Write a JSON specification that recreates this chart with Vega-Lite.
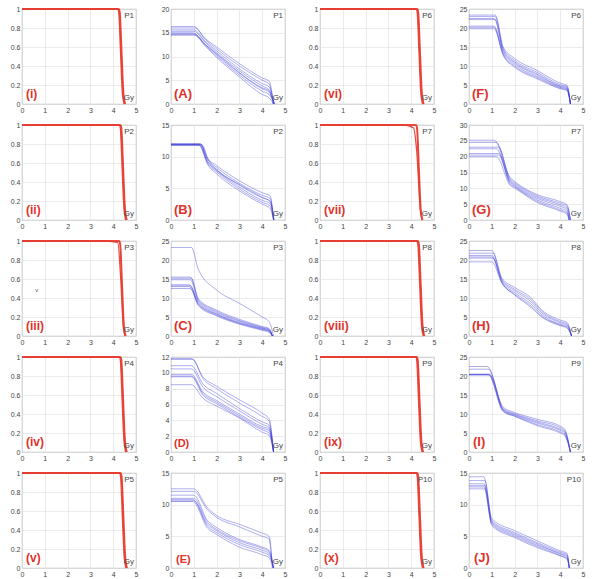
{
"$schema":"https://vega.github.io/schema/vega-lite/v6.json",
"background":"white",
"padding":{"left":9,"top":4,"right":5,"bottom":5},
"data":{"values":[
{"p":"i","s":1,"x":0,"y":1},{"p":"i","s":1,"x":4.2,"y":1},{"p":"i","s":1,"x":4.24,"y":0.97},{"p":"i","s":1,"x":4.32,"y":0.55},{"p":"i","s":1,"x":4.4,"y":0.12},{"p":"i","s":1,"x":4.48,"y":0},
{"p":"i","s":2,"x":0,"y":1},{"p":"i","s":2,"x":4.23,"y":1},{"p":"i","s":2,"x":4.27,"y":0.97},{"p":"i","s":2,"x":4.35,"y":0.55},{"p":"i","s":2,"x":4.43,"y":0.12},{"p":"i","s":2,"x":4.51,"y":0},
{"p":"i","s":3,"x":0,"y":1},{"p":"i","s":3,"x":4.26,"y":1},{"p":"i","s":3,"x":4.3,"y":0.97},{"p":"i","s":3,"x":4.38,"y":0.55},{"p":"i","s":3,"x":4.46,"y":0.12},{"p":"i","s":3,"x":4.54,"y":0},
{"p":"ii","s":1,"x":0,"y":1},{"p":"ii","s":1,"x":4.27,"y":1},{"p":"ii","s":1,"x":4.31,"y":0.97},{"p":"ii","s":1,"x":4.39,"y":0.55},{"p":"ii","s":1,"x":4.47,"y":0.12},{"p":"ii","s":1,"x":4.55,"y":0},
{"p":"ii","s":2,"x":0,"y":1},{"p":"ii","s":2,"x":4.3,"y":1},{"p":"ii","s":2,"x":4.34,"y":0.97},{"p":"ii","s":2,"x":4.42,"y":0.55},{"p":"ii","s":2,"x":4.5,"y":0.12},{"p":"ii","s":2,"x":4.58,"y":0},
{"p":"ii","s":3,"x":0,"y":1},{"p":"ii","s":3,"x":4.33,"y":1},{"p":"ii","s":3,"x":4.37,"y":0.97},{"p":"ii","s":3,"x":4.45,"y":0.55},{"p":"ii","s":3,"x":4.53,"y":0.12},{"p":"ii","s":3,"x":4.61,"y":0},
{"p":"iii","s":1,"x":0,"y":1},{"p":"iii","s":1,"x":4.25,"y":1},{"p":"iii","s":1,"x":4.29,"y":0.97},{"p":"iii","s":1,"x":4.37,"y":0.55},{"p":"iii","s":1,"x":4.45,"y":0.12},{"p":"iii","s":1,"x":4.53,"y":0},
{"p":"iii","s":2,"x":0,"y":1},{"p":"iii","s":2,"x":4.28,"y":1},{"p":"iii","s":2,"x":4.32,"y":0.97},{"p":"iii","s":2,"x":4.4,"y":0.55},{"p":"iii","s":2,"x":4.48,"y":0.12},{"p":"iii","s":2,"x":4.56,"y":0},
{"p":"iii","s":3,"x":0,"y":1},{"p":"iii","s":3,"x":3.5,"y":1},{"p":"iii","s":3,"x":4.2,"y":0.985},{"p":"iii","s":3,"x":4.33,"y":0.6},{"p":"iii","s":3,"x":4.44,"y":0.1},{"p":"iii","s":3,"x":4.52,"y":0},
{"p":"iv","s":1,"x":0,"y":1},{"p":"iv","s":1,"x":4.27,"y":1},{"p":"iv","s":1,"x":4.31,"y":0.97},{"p":"iv","s":1,"x":4.39,"y":0.55},{"p":"iv","s":1,"x":4.47,"y":0.12},{"p":"iv","s":1,"x":4.55,"y":0},
{"p":"iv","s":2,"x":0,"y":1},{"p":"iv","s":2,"x":4.3,"y":1},{"p":"iv","s":2,"x":4.34,"y":0.97},{"p":"iv","s":2,"x":4.42,"y":0.55},{"p":"iv","s":2,"x":4.5,"y":0.12},{"p":"iv","s":2,"x":4.58,"y":0},
{"p":"iv","s":3,"x":0,"y":1},{"p":"iv","s":3,"x":4.33,"y":1},{"p":"iv","s":3,"x":4.37,"y":0.97},{"p":"iv","s":3,"x":4.45,"y":0.55},{"p":"iv","s":3,"x":4.53,"y":0.12},{"p":"iv","s":3,"x":4.61,"y":0},
{"p":"v","s":1,"x":0,"y":1},{"p":"v","s":1,"x":4.28,"y":1},{"p":"v","s":1,"x":4.32,"y":0.97},{"p":"v","s":1,"x":4.4,"y":0.55},{"p":"v","s":1,"x":4.48,"y":0.12},{"p":"v","s":1,"x":4.56,"y":0},
{"p":"v","s":2,"x":0,"y":1},{"p":"v","s":2,"x":4.31,"y":1},{"p":"v","s":2,"x":4.35,"y":0.97},{"p":"v","s":2,"x":4.43,"y":0.55},{"p":"v","s":2,"x":4.51,"y":0.12},{"p":"v","s":2,"x":4.59,"y":0},
{"p":"v","s":3,"x":0,"y":1},{"p":"v","s":3,"x":4.34,"y":1},{"p":"v","s":3,"x":4.38,"y":0.97},{"p":"v","s":3,"x":4.46,"y":0.55},{"p":"v","s":3,"x":4.54,"y":0.12},{"p":"v","s":3,"x":4.62,"y":0},
{"p":"vi","s":1,"x":0,"y":1},{"p":"vi","s":1,"x":4.22,"y":1},{"p":"vi","s":1,"x":4.26,"y":0.97},{"p":"vi","s":1,"x":4.34,"y":0.55},{"p":"vi","s":1,"x":4.42,"y":0.12},{"p":"vi","s":1,"x":4.5,"y":0},
{"p":"vi","s":2,"x":0,"y":1},{"p":"vi","s":2,"x":4.25,"y":1},{"p":"vi","s":2,"x":4.29,"y":0.97},{"p":"vi","s":2,"x":4.37,"y":0.55},{"p":"vi","s":2,"x":4.45,"y":0.12},{"p":"vi","s":2,"x":4.53,"y":0},
{"p":"vi","s":3,"x":0,"y":1},{"p":"vi","s":3,"x":4.28,"y":1},{"p":"vi","s":3,"x":4.32,"y":0.97},{"p":"vi","s":3,"x":4.4,"y":0.55},{"p":"vi","s":3,"x":4.48,"y":0.12},{"p":"vi","s":3,"x":4.56,"y":0},
{"p":"vii","s":1,"x":0,"y":1},{"p":"vii","s":1,"x":4.2,"y":1},{"p":"vii","s":1,"x":4.24,"y":0.97},{"p":"vii","s":1,"x":4.32,"y":0.55},{"p":"vii","s":1,"x":4.4,"y":0.12},{"p":"vii","s":1,"x":4.48,"y":0},
{"p":"vii","s":2,"x":0,"y":1},{"p":"vii","s":2,"x":4.23,"y":1},{"p":"vii","s":2,"x":4.27,"y":0.97},{"p":"vii","s":2,"x":4.35,"y":0.55},{"p":"vii","s":2,"x":4.43,"y":0.12},{"p":"vii","s":2,"x":4.51,"y":0},
{"p":"vii","s":3,"x":0,"y":1},{"p":"vii","s":3,"x":3.7,"y":1},{"p":"vii","s":3,"x":4.1,"y":0.97},{"p":"vii","s":3,"x":4.25,"y":0.7},{"p":"vii","s":3,"x":4.4,"y":0.1},{"p":"vii","s":3,"x":4.48,"y":0},
{"p":"viii","s":1,"x":0,"y":1},{"p":"viii","s":1,"x":4.25,"y":1},{"p":"viii","s":1,"x":4.29,"y":0.97},{"p":"viii","s":1,"x":4.37,"y":0.55},{"p":"viii","s":1,"x":4.45,"y":0.12},{"p":"viii","s":1,"x":4.53,"y":0},
{"p":"viii","s":2,"x":0,"y":1},{"p":"viii","s":2,"x":4.28,"y":1},{"p":"viii","s":2,"x":4.32,"y":0.97},{"p":"viii","s":2,"x":4.4,"y":0.55},{"p":"viii","s":2,"x":4.48,"y":0.12},{"p":"viii","s":2,"x":4.56,"y":0},
{"p":"viii","s":3,"x":0,"y":1},{"p":"viii","s":3,"x":4.31,"y":1},{"p":"viii","s":3,"x":4.35,"y":0.97},{"p":"viii","s":3,"x":4.43,"y":0.55},{"p":"viii","s":3,"x":4.51,"y":0.12},{"p":"viii","s":3,"x":4.59,"y":0},
{"p":"ix","s":1,"x":0,"y":1},{"p":"ix","s":1,"x":4.2,"y":1},{"p":"ix","s":1,"x":4.24,"y":0.97},{"p":"ix","s":1,"x":4.32,"y":0.55},{"p":"ix","s":1,"x":4.4,"y":0.12},{"p":"ix","s":1,"x":4.48,"y":0},
{"p":"ix","s":2,"x":0,"y":1},{"p":"ix","s":2,"x":4.23,"y":1},{"p":"ix","s":2,"x":4.27,"y":0.97},{"p":"ix","s":2,"x":4.35,"y":0.55},{"p":"ix","s":2,"x":4.43,"y":0.12},{"p":"ix","s":2,"x":4.51,"y":0},
{"p":"ix","s":3,"x":0,"y":1},{"p":"ix","s":3,"x":4.26,"y":1},{"p":"ix","s":3,"x":4.3,"y":0.97},{"p":"ix","s":3,"x":4.38,"y":0.55},{"p":"ix","s":3,"x":4.46,"y":0.12},{"p":"ix","s":3,"x":4.54,"y":0},
{"p":"x","s":1,"x":0,"y":1},{"p":"x","s":1,"x":4.22,"y":1},{"p":"x","s":1,"x":4.26,"y":0.97},{"p":"x","s":1,"x":4.34,"y":0.55},{"p":"x","s":1,"x":4.42,"y":0.12},{"p":"x","s":1,"x":4.5,"y":0},
{"p":"x","s":2,"x":0,"y":1},{"p":"x","s":2,"x":4.25,"y":1},{"p":"x","s":2,"x":4.29,"y":0.97},{"p":"x","s":2,"x":4.37,"y":0.55},{"p":"x","s":2,"x":4.45,"y":0.12},{"p":"x","s":2,"x":4.53,"y":0},
{"p":"x","s":3,"x":0,"y":1},{"p":"x","s":3,"x":4.28,"y":1},{"p":"x","s":3,"x":4.32,"y":0.97},{"p":"x","s":3,"x":4.4,"y":0.55},{"p":"x","s":3,"x":4.48,"y":0.12},{"p":"x","s":3,"x":4.56,"y":0},

{"p":"A","s":1,"x":0,"y":16.3},{"p":"A","s":1,"x":1.0,"y":16.3},{"p":"A","s":1,"x":1.5,"y":13.8},{"p":"A","s":1,"x":2,"y":12.0},{"p":"A","s":1,"x":3,"y":8.5},{"p":"A","s":1,"x":4,"y":5.5},{"p":"A","s":1,"x":4.3,"y":4.8},{"p":"A","s":1,"x":4.5,"y":0},
{"p":"A","s":2,"x":0,"y":16.0},{"p":"A","s":2,"x":1.05,"y":16.0},{"p":"A","s":2,"x":1.5,"y":13.6},{"p":"A","s":2,"x":2,"y":11.6},{"p":"A","s":2,"x":3,"y":8.0},{"p":"A","s":2,"x":4,"y":5.0},{"p":"A","s":2,"x":4.3,"y":4.2},{"p":"A","s":2,"x":4.5,"y":0},
{"p":"A","s":3,"x":0,"y":15.6},{"p":"A","s":3,"x":1.0,"y":15.6},{"p":"A","s":3,"x":1.5,"y":13.2},{"p":"A","s":3,"x":2,"y":11.2},{"p":"A","s":3,"x":3,"y":7.4},{"p":"A","s":3,"x":4,"y":4.3},{"p":"A","s":3,"x":4.3,"y":3.6},{"p":"A","s":3,"x":4.52,"y":0},
{"p":"A","s":4,"x":0,"y":15.3},{"p":"A","s":4,"x":1.0,"y":15.3},{"p":"A","s":4,"x":1.5,"y":13.0},{"p":"A","s":4,"x":2,"y":10.8},{"p":"A","s":4,"x":3,"y":7.0},{"p":"A","s":4,"x":4,"y":3.8},{"p":"A","s":4,"x":4.3,"y":3.0},{"p":"A","s":4,"x":4.5,"y":0},
{"p":"A","s":5,"x":0,"y":15.0},{"p":"A","s":5,"x":0.95,"y":15.0},{"p":"A","s":5,"x":1.5,"y":12.6},{"p":"A","s":5,"x":2,"y":10.4},{"p":"A","s":5,"x":3,"y":6.5},{"p":"A","s":5,"x":4,"y":3.2},{"p":"A","s":5,"x":4.3,"y":2.5},{"p":"A","s":5,"x":4.55,"y":0},
{"p":"A","s":6,"x":0,"y":14.8},{"p":"A","s":6,"x":1.0,"y":14.8},{"p":"A","s":6,"x":1.5,"y":12.4},{"p":"A","s":6,"x":2,"y":10.1},{"p":"A","s":6,"x":3,"y":6.1},{"p":"A","s":6,"x":4,"y":2.7},{"p":"A","s":6,"x":4.3,"y":2.0},{"p":"A","s":6,"x":4.55,"y":0},
{"p":"A","s":7,"x":0,"y":14.6},{"p":"A","s":7,"x":1.0,"y":14.6},{"p":"A","s":7,"x":1.5,"y":12.2},{"p":"A","s":7,"x":2,"y":9.8},{"p":"A","s":7,"x":3,"y":5.7},{"p":"A","s":7,"x":4,"y":2.0},{"p":"A","s":7,"x":4.3,"y":1.3},{"p":"A","s":7,"x":4.5,"y":0},
{"p":"A","s":8,"x":0,"y":14.5},{"p":"A","s":8,"x":1.05,"y":14.5},{"p":"A","s":8,"x":1.5,"y":12.5},{"p":"A","s":8,"x":2,"y":10.6},{"p":"A","s":8,"x":3,"y":6.6},{"p":"A","s":8,"x":4,"y":3.4},{"p":"A","s":8,"x":4.3,"y":2.8},{"p":"A","s":8,"x":4.48,"y":0},

{"p":"B","s":1,"x":0,"y":12.0},{"p":"B","s":1,"x":1.3,"y":12.0},{"p":"B","s":1,"x":1.6,"y":9.8},{"p":"B","s":1,"x":2,"y":8.6},{"p":"B","s":1,"x":3,"y":6.2},{"p":"B","s":1,"x":4,"y":4.3},{"p":"B","s":1,"x":4.35,"y":3.8},{"p":"B","s":1,"x":4.5,"y":0},
{"p":"B","s":2,"x":0,"y":12.0},{"p":"B","s":2,"x":1.25,"y":12.0},{"p":"B","s":2,"x":1.6,"y":9.6},{"p":"B","s":2,"x":2,"y":8.3},{"p":"B","s":2,"x":3,"y":5.8},{"p":"B","s":2,"x":4,"y":3.9},{"p":"B","s":2,"x":4.35,"y":3.4},{"p":"B","s":2,"x":4.5,"y":0},
{"p":"B","s":3,"x":0,"y":11.9},{"p":"B","s":3,"x":1.35,"y":11.9},{"p":"B","s":3,"x":1.65,"y":9.4},{"p":"B","s":3,"x":2,"y":8.0},{"p":"B","s":3,"x":3,"y":5.5},{"p":"B","s":3,"x":4,"y":3.5},{"p":"B","s":3,"x":4.35,"y":3.0},{"p":"B","s":3,"x":4.52,"y":0},
{"p":"B","s":4,"x":0,"y":11.9},{"p":"B","s":4,"x":1.2,"y":11.9},{"p":"B","s":4,"x":1.6,"y":9.2},{"p":"B","s":4,"x":2,"y":7.8},{"p":"B","s":4,"x":3,"y":5.2},{"p":"B","s":4,"x":4,"y":3.1},{"p":"B","s":4,"x":4.35,"y":2.6},{"p":"B","s":4,"x":4.5,"y":0},
{"p":"B","s":5,"x":0,"y":11.8},{"p":"B","s":5,"x":1.3,"y":11.8},{"p":"B","s":5,"x":1.6,"y":9.0},{"p":"B","s":5,"x":2,"y":7.6},{"p":"B","s":5,"x":3,"y":4.9},{"p":"B","s":5,"x":4,"y":2.8},{"p":"B","s":5,"x":4.35,"y":2.2},{"p":"B","s":5,"x":4.5,"y":0},
{"p":"B","s":6,"x":0,"y":11.8},{"p":"B","s":6,"x":1.25,"y":11.8},{"p":"B","s":6,"x":1.6,"y":8.8},{"p":"B","s":6,"x":2,"y":7.3},{"p":"B","s":6,"x":3,"y":4.6},{"p":"B","s":6,"x":4,"y":2.5},{"p":"B","s":6,"x":4.35,"y":1.8},{"p":"B","s":6,"x":4.5,"y":0},
{"p":"B","s":7,"x":0,"y":12.0},{"p":"B","s":7,"x":1.3,"y":12.0},{"p":"B","s":7,"x":1.6,"y":9.3},{"p":"B","s":7,"x":2,"y":7.9},{"p":"B","s":7,"x":3,"y":5.6},{"p":"B","s":7,"x":4,"y":3.6},{"p":"B","s":7,"x":4.35,"y":2.9},{"p":"B","s":7,"x":4.52,"y":0},

{"p":"C","s":1,"x":0,"y":23.3},{"p":"C","s":1,"x":0.9,"y":23.3},{"p":"C","s":1,"x":1.2,"y":17.5},{"p":"C","s":1,"x":2,"y":12.1},{"p":"C","s":1,"x":3,"y":8.6},{"p":"C","s":1,"x":4,"y":5.0},{"p":"C","s":1,"x":4.3,"y":3.8},{"p":"C","s":1,"x":4.5,"y":0},
{"p":"C","s":2,"x":0,"y":15.5},{"p":"C","s":2,"x":0.85,"y":15.5},{"p":"C","s":2,"x":1.2,"y":9.8},{"p":"C","s":2,"x":2,"y":6.8},{"p":"C","s":2,"x":3,"y":4.4},{"p":"C","s":2,"x":4,"y":2.5},{"p":"C","s":2,"x":4.3,"y":2.0},{"p":"C","s":2,"x":4.45,"y":0},
{"p":"C","s":3,"x":0,"y":15.2},{"p":"C","s":3,"x":0.9,"y":15.2},{"p":"C","s":3,"x":1.2,"y":9.5},{"p":"C","s":3,"x":2,"y":6.5},{"p":"C","s":3,"x":3,"y":4.1},{"p":"C","s":3,"x":4,"y":2.3},{"p":"C","s":3,"x":4.3,"y":1.8},{"p":"C","s":3,"x":4.45,"y":0},
{"p":"C","s":4,"x":0,"y":14.8},{"p":"C","s":4,"x":0.85,"y":14.8},{"p":"C","s":4,"x":1.2,"y":9.2},{"p":"C","s":4,"x":2,"y":6.2},{"p":"C","s":4,"x":3,"y":3.9},{"p":"C","s":4,"x":4,"y":2.1},{"p":"C","s":4,"x":4.3,"y":1.6},{"p":"C","s":4,"x":4.45,"y":0},
{"p":"C","s":5,"x":0,"y":13.5},{"p":"C","s":5,"x":0.8,"y":13.5},{"p":"C","s":5,"x":1.2,"y":8.8},{"p":"C","s":5,"x":2,"y":5.9},{"p":"C","s":5,"x":3,"y":3.6},{"p":"C","s":5,"x":4,"y":2.0},{"p":"C","s":5,"x":4.3,"y":1.5},{"p":"C","s":5,"x":4.45,"y":0},
{"p":"C","s":6,"x":0,"y":13.2},{"p":"C","s":6,"x":0.85,"y":13.2},{"p":"C","s":6,"x":1.2,"y":8.5},{"p":"C","s":6,"x":2,"y":5.7},{"p":"C","s":6,"x":3,"y":3.4},{"p":"C","s":6,"x":4,"y":1.8},{"p":"C","s":6,"x":4.3,"y":1.3},{"p":"C","s":6,"x":4.45,"y":0},
{"p":"C","s":7,"x":0,"y":13.0},{"p":"C","s":7,"x":0.8,"y":13.0},{"p":"C","s":7,"x":1.2,"y":8.3},{"p":"C","s":7,"x":2,"y":5.5},{"p":"C","s":7,"x":3,"y":3.3},{"p":"C","s":7,"x":4,"y":1.7},{"p":"C","s":7,"x":4.3,"y":1.2},{"p":"C","s":7,"x":4.45,"y":0},
{"p":"C","s":8,"x":0,"y":12.5},{"p":"C","s":8,"x":0.85,"y":12.5},{"p":"C","s":8,"x":1.2,"y":8.0},{"p":"C","s":8,"x":2,"y":5.3},{"p":"C","s":8,"x":3,"y":3.1},{"p":"C","s":8,"x":4,"y":1.5},{"p":"C","s":8,"x":4.3,"y":1.0},{"p":"C","s":8,"x":4.45,"y":0},

{"p":"D","s":1,"x":0,"y":11.8},{"p":"D","s":1,"x":0.9,"y":11.8},{"p":"D","s":1,"x":1.4,"y":9.5},{"p":"D","s":1,"x":2,"y":8.3},{"p":"D","s":1,"x":3,"y":6.6},{"p":"D","s":1,"x":4,"y":4.9},{"p":"D","s":1,"x":4.3,"y":4.2},{"p":"D","s":1,"x":4.5,"y":0},
{"p":"D","s":2,"x":0,"y":11.7},{"p":"D","s":2,"x":0.95,"y":11.7},{"p":"D","s":2,"x":1.4,"y":9.3},{"p":"D","s":2,"x":2,"y":8.0},{"p":"D","s":2,"x":3,"y":6.2},{"p":"D","s":2,"x":4,"y":4.5},{"p":"D","s":2,"x":4.3,"y":3.9},{"p":"D","s":2,"x":4.5,"y":0},
{"p":"D","s":3,"x":0,"y":10.9},{"p":"D","s":3,"x":0.9,"y":10.9},{"p":"D","s":3,"x":1.4,"y":8.6},{"p":"D","s":3,"x":2,"y":7.4},{"p":"D","s":3,"x":3,"y":5.5},{"p":"D","s":3,"x":4,"y":3.8},{"p":"D","s":3,"x":4.3,"y":3.4},{"p":"D","s":3,"x":4.5,"y":0},
{"p":"D","s":4,"x":0,"y":10.5},{"p":"D","s":4,"x":0.9,"y":10.5},{"p":"D","s":4,"x":1.4,"y":8.2},{"p":"D","s":4,"x":2,"y":7.0},{"p":"D","s":4,"x":3,"y":5.2},{"p":"D","s":4,"x":4,"y":3.5},{"p":"D","s":4,"x":4.3,"y":3.1},{"p":"D","s":4,"x":4.5,"y":0},
{"p":"D","s":5,"x":0,"y":9.8},{"p":"D","s":5,"x":0.9,"y":9.8},{"p":"D","s":5,"x":1.4,"y":7.6},{"p":"D","s":5,"x":2,"y":6.5},{"p":"D","s":5,"x":3,"y":4.8},{"p":"D","s":5,"x":4,"y":3.2},{"p":"D","s":5,"x":4.3,"y":2.9},{"p":"D","s":5,"x":4.5,"y":0},
{"p":"D","s":6,"x":0,"y":9.6},{"p":"D","s":6,"x":0.9,"y":9.6},{"p":"D","s":6,"x":1.4,"y":7.4},{"p":"D","s":6,"x":2,"y":6.3},{"p":"D","s":6,"x":3,"y":4.6},{"p":"D","s":6,"x":4,"y":3.0},{"p":"D","s":6,"x":4.3,"y":2.7},{"p":"D","s":6,"x":4.5,"y":0},
{"p":"D","s":7,"x":0,"y":9.5},{"p":"D","s":7,"x":0.9,"y":9.5},{"p":"D","s":7,"x":1.4,"y":7.2},{"p":"D","s":7,"x":2,"y":6.1},{"p":"D","s":7,"x":3,"y":4.4},{"p":"D","s":7,"x":4,"y":2.8},{"p":"D","s":7,"x":4.3,"y":2.4},{"p":"D","s":7,"x":4.5,"y":0},
{"p":"D","s":8,"x":0,"y":8.5},{"p":"D","s":8,"x":0.9,"y":8.5},{"p":"D","s":8,"x":1.4,"y":6.8},{"p":"D","s":8,"x":2,"y":5.8},{"p":"D","s":8,"x":3,"y":4.3},{"p":"D","s":8,"x":4,"y":2.5},{"p":"D","s":8,"x":4.3,"y":2.1},{"p":"D","s":8,"x":4.5,"y":0},

{"p":"E","s":1,"x":0,"y":12.5},{"p":"E","s":1,"x":1.0,"y":12.5},{"p":"E","s":1,"x":1.6,"y":9.5},{"p":"E","s":1,"x":2,"y":8.3},{"p":"E","s":1,"x":3,"y":6.9},{"p":"E","s":1,"x":4,"y":5.5},{"p":"E","s":1,"x":4.3,"y":5.0},{"p":"E","s":1,"x":4.45,"y":0},
{"p":"E","s":2,"x":0,"y":12.1},{"p":"E","s":2,"x":1.0,"y":12.1},{"p":"E","s":2,"x":1.6,"y":9.2},{"p":"E","s":2,"x":2,"y":8.0},{"p":"E","s":2,"x":3,"y":6.5},{"p":"E","s":2,"x":4,"y":5.0},{"p":"E","s":2,"x":4.3,"y":4.6},{"p":"E","s":2,"x":4.45,"y":0},
{"p":"E","s":3,"x":0,"y":11.5},{"p":"E","s":3,"x":1.0,"y":11.5},{"p":"E","s":3,"x":1.6,"y":7.5},{"p":"E","s":3,"x":2,"y":6.4},{"p":"E","s":3,"x":3,"y":4.5},{"p":"E","s":3,"x":4,"y":3.3},{"p":"E","s":3,"x":4.3,"y":2.8},{"p":"E","s":3,"x":4.5,"y":0},
{"p":"E","s":4,"x":0,"y":11.0},{"p":"E","s":4,"x":1.0,"y":11.0},{"p":"E","s":4,"x":1.6,"y":7.2},{"p":"E","s":4,"x":2,"y":6.1},{"p":"E","s":4,"x":3,"y":4.3},{"p":"E","s":4,"x":4,"y":3.1},{"p":"E","s":4,"x":4.3,"y":2.6},{"p":"E","s":4,"x":4.5,"y":0},
{"p":"E","s":5,"x":0,"y":10.8},{"p":"E","s":5,"x":0.95,"y":10.8},{"p":"E","s":5,"x":1.6,"y":6.9},{"p":"E","s":5,"x":2,"y":5.9},{"p":"E","s":5,"x":3,"y":4.0},{"p":"E","s":5,"x":4,"y":2.8},{"p":"E","s":5,"x":4.3,"y":2.3},{"p":"E","s":5,"x":4.5,"y":0},
{"p":"E","s":6,"x":0,"y":10.6},{"p":"E","s":6,"x":1.0,"y":10.6},{"p":"E","s":6,"x":1.6,"y":6.6},{"p":"E","s":6,"x":2,"y":5.6},{"p":"E","s":6,"x":3,"y":3.7},{"p":"E","s":6,"x":4,"y":2.5},{"p":"E","s":6,"x":4.3,"y":2.0},{"p":"E","s":6,"x":4.5,"y":0},
{"p":"E","s":7,"x":0,"y":10.5},{"p":"E","s":7,"x":0.95,"y":10.5},{"p":"E","s":7,"x":1.6,"y":6.3},{"p":"E","s":7,"x":2,"y":5.3},{"p":"E","s":7,"x":3,"y":3.3},{"p":"E","s":7,"x":4,"y":2.1},{"p":"E","s":7,"x":4.3,"y":1.6},{"p":"E","s":7,"x":4.5,"y":0},

{"p":"F","s":1,"x":0,"y":23.4},{"p":"F","s":1,"x":1.15,"y":23.4},{"p":"F","s":1,"x":1.5,"y":15.0},{"p":"F","s":1,"x":2,"y":12.0},{"p":"F","s":1,"x":3,"y":8.8},{"p":"F","s":1,"x":4,"y":5.5},{"p":"F","s":1,"x":4.3,"y":4.9},{"p":"F","s":1,"x":4.45,"y":0},
{"p":"F","s":2,"x":0,"y":23.0},{"p":"F","s":2,"x":1.15,"y":23.0},{"p":"F","s":2,"x":1.5,"y":14.6},{"p":"F","s":2,"x":2,"y":11.5},{"p":"F","s":2,"x":3,"y":8.3},{"p":"F","s":2,"x":4,"y":5.1},{"p":"F","s":2,"x":4.3,"y":4.6},{"p":"F","s":2,"x":4.45,"y":0},
{"p":"F","s":3,"x":0,"y":22.5},{"p":"F","s":3,"x":1.1,"y":22.5},{"p":"F","s":3,"x":1.5,"y":14.2},{"p":"F","s":3,"x":2,"y":11.1},{"p":"F","s":3,"x":3,"y":7.9},{"p":"F","s":3,"x":4,"y":4.8},{"p":"F","s":3,"x":4.3,"y":4.4},{"p":"F","s":3,"x":4.45,"y":0},
{"p":"F","s":4,"x":0,"y":22.2},{"p":"F","s":4,"x":1.15,"y":22.2},{"p":"F","s":4,"x":1.5,"y":13.8},{"p":"F","s":4,"x":2,"y":10.8},{"p":"F","s":4,"x":3,"y":7.6},{"p":"F","s":4,"x":4,"y":4.6},{"p":"F","s":4,"x":4.3,"y":4.1},{"p":"F","s":4,"x":4.45,"y":0},
{"p":"F","s":5,"x":0,"y":20.5},{"p":"F","s":5,"x":1.1,"y":20.5},{"p":"F","s":5,"x":1.5,"y":13.4},{"p":"F","s":5,"x":2,"y":10.4},{"p":"F","s":5,"x":3,"y":7.2},{"p":"F","s":5,"x":4,"y":4.4},{"p":"F","s":5,"x":4.3,"y":3.9},{"p":"F","s":5,"x":4.45,"y":0},
{"p":"F","s":6,"x":0,"y":20.2},{"p":"F","s":6,"x":1.1,"y":20.2},{"p":"F","s":6,"x":1.5,"y":13.0},{"p":"F","s":6,"x":2,"y":10.0},{"p":"F","s":6,"x":3,"y":6.9},{"p":"F","s":6,"x":4,"y":4.2},{"p":"F","s":6,"x":4.3,"y":3.7},{"p":"F","s":6,"x":4.45,"y":0},
{"p":"F","s":7,"x":0,"y":19.8},{"p":"F","s":7,"x":1.1,"y":19.8},{"p":"F","s":7,"x":1.5,"y":12.8},{"p":"F","s":7,"x":2,"y":9.7},{"p":"F","s":7,"x":3,"y":6.6},{"p":"F","s":7,"x":4,"y":4.0},{"p":"F","s":7,"x":4.3,"y":3.5},{"p":"F","s":7,"x":4.45,"y":0},

{"p":"G","s":1,"x":0,"y":25.2},{"p":"G","s":1,"x":1.1,"y":25.2},{"p":"G","s":1,"x":1.8,"y":13.5},{"p":"G","s":1,"x":2,"y":12.2},{"p":"G","s":1,"x":3,"y":8.0},{"p":"G","s":1,"x":4,"y":5.8},{"p":"G","s":1,"x":4.3,"y":4.8},{"p":"G","s":1,"x":4.45,"y":0},
{"p":"G","s":2,"x":0,"y":24.5},{"p":"G","s":2,"x":1.2,"y":24.5},{"p":"G","s":2,"x":1.8,"y":13.0},{"p":"G","s":2,"x":2,"y":11.8},{"p":"G","s":2,"x":3,"y":7.6},{"p":"G","s":2,"x":4,"y":5.3},{"p":"G","s":2,"x":4.3,"y":4.4},{"p":"G","s":2,"x":4.45,"y":0},
{"p":"G","s":3,"x":0,"y":23.0},{"p":"G","s":3,"x":1.3,"y":23.0},{"p":"G","s":3,"x":1.8,"y":12.6},{"p":"G","s":3,"x":2,"y":11.4},{"p":"G","s":3,"x":3,"y":7.2},{"p":"G","s":3,"x":4,"y":4.8},{"p":"G","s":3,"x":4.3,"y":3.8},{"p":"G","s":3,"x":4.45,"y":0},
{"p":"G","s":4,"x":0,"y":22.5},{"p":"G","s":4,"x":1.2,"y":22.5},{"p":"G","s":4,"x":1.8,"y":12.2},{"p":"G","s":4,"x":2,"y":11.0},{"p":"G","s":4,"x":3,"y":6.8},{"p":"G","s":4,"x":4,"y":4.3},{"p":"G","s":4,"x":4.3,"y":3.3},{"p":"G","s":4,"x":4.4,"y":0},
{"p":"G","s":5,"x":0,"y":21.0},{"p":"G","s":5,"x":1.3,"y":21.0},{"p":"G","s":5,"x":1.8,"y":11.8},{"p":"G","s":5,"x":2,"y":10.7},{"p":"G","s":5,"x":3,"y":6.3},{"p":"G","s":5,"x":4,"y":3.7},{"p":"G","s":5,"x":4.3,"y":2.7},{"p":"G","s":5,"x":4.4,"y":0},
{"p":"G","s":6,"x":0,"y":20.5},{"p":"G","s":6,"x":1.3,"y":20.5},{"p":"G","s":6,"x":1.8,"y":11.4},{"p":"G","s":6,"x":2,"y":10.4},{"p":"G","s":6,"x":3,"y":5.9},{"p":"G","s":6,"x":4,"y":3.2},{"p":"G","s":6,"x":4.3,"y":2.2},{"p":"G","s":6,"x":4.4,"y":0},
{"p":"G","s":7,"x":0,"y":20.0},{"p":"G","s":7,"x":1.2,"y":20.0},{"p":"G","s":7,"x":1.8,"y":11.0},{"p":"G","s":7,"x":2,"y":10.1},{"p":"G","s":7,"x":3,"y":5.5},{"p":"G","s":7,"x":4,"y":2.8},{"p":"G","s":7,"x":4.3,"y":1.8},{"p":"G","s":7,"x":4.38,"y":0},

{"p":"H","s":1,"x":0,"y":22.5},{"p":"H","s":1,"x":1.0,"y":22.5},{"p":"H","s":1,"x":1.45,"y":15.2},{"p":"H","s":1,"x":2,"y":12.8},{"p":"H","s":1,"x":2.8,"y":9.6},{"p":"H","s":1,"x":3.1,"y":7.4},{"p":"H","s":1,"x":4,"y":4.2},{"p":"H","s":1,"x":4.3,"y":3.6},{"p":"H","s":1,"x":4.5,"y":0},
{"p":"H","s":2,"x":0,"y":21.8},{"p":"H","s":2,"x":1.05,"y":21.8},{"p":"H","s":2,"x":1.45,"y":14.8},{"p":"H","s":2,"x":2,"y":12.3},{"p":"H","s":2,"x":2.8,"y":9.1},{"p":"H","s":2,"x":3.1,"y":7.0},{"p":"H","s":2,"x":4,"y":3.8},{"p":"H","s":2,"x":4.3,"y":3.2},{"p":"H","s":2,"x":4.5,"y":0},
{"p":"H","s":3,"x":0,"y":21.2},{"p":"H","s":3,"x":1.0,"y":21.2},{"p":"H","s":3,"x":1.45,"y":14.5},{"p":"H","s":3,"x":2,"y":11.9},{"p":"H","s":3,"x":2.8,"y":8.6},{"p":"H","s":3,"x":3.1,"y":6.6},{"p":"H","s":3,"x":4,"y":3.5},{"p":"H","s":3,"x":4.3,"y":2.9},{"p":"H","s":3,"x":4.5,"y":0},
{"p":"H","s":4,"x":0,"y":20.8},{"p":"H","s":4,"x":1.0,"y":20.8},{"p":"H","s":4,"x":1.45,"y":14.2},{"p":"H","s":4,"x":2,"y":11.4},{"p":"H","s":4,"x":2.8,"y":8.0},{"p":"H","s":4,"x":3.1,"y":6.1},{"p":"H","s":4,"x":4,"y":3.1},{"p":"H","s":4,"x":4.3,"y":2.6},{"p":"H","s":4,"x":4.5,"y":0},
{"p":"H","s":5,"x":0,"y":20.5},{"p":"H","s":5,"x":1.05,"y":20.5},{"p":"H","s":5,"x":1.45,"y":14.0},{"p":"H","s":5,"x":2,"y":11.0},{"p":"H","s":5,"x":2.8,"y":7.5},{"p":"H","s":5,"x":3.1,"y":5.7},{"p":"H","s":5,"x":4,"y":2.9},{"p":"H","s":5,"x":4.3,"y":2.3},{"p":"H","s":5,"x":4.5,"y":0},
{"p":"H","s":6,"x":0,"y":19.5},{"p":"H","s":6,"x":1.0,"y":19.5},{"p":"H","s":6,"x":1.45,"y":13.8},{"p":"H","s":6,"x":2,"y":10.8},{"p":"H","s":6,"x":2.8,"y":7.1},{"p":"H","s":6,"x":3.1,"y":5.4},{"p":"H","s":6,"x":4,"y":2.7},{"p":"H","s":6,"x":4.3,"y":2.1},{"p":"H","s":6,"x":4.5,"y":0},

{"p":"I","s":1,"x":0,"y":22.5},{"p":"I","s":1,"x":0.8,"y":22.5},{"p":"I","s":1,"x":1.5,"y":11.8},{"p":"I","s":1,"x":2,"y":10.4},{"p":"I","s":1,"x":3,"y":8.6},{"p":"I","s":1,"x":4,"y":6.8},{"p":"I","s":1,"x":4.2,"y":6.0},{"p":"I","s":1,"x":4.45,"y":0},
{"p":"I","s":2,"x":0,"y":21.8},{"p":"I","s":2,"x":0.85,"y":21.8},{"p":"I","s":2,"x":1.5,"y":11.4},{"p":"I","s":2,"x":2,"y":10.1},{"p":"I","s":2,"x":3,"y":8.2},{"p":"I","s":2,"x":4,"y":6.4},{"p":"I","s":2,"x":4.2,"y":5.6},{"p":"I","s":2,"x":4.45,"y":0},
{"p":"I","s":3,"x":0,"y":20.5},{"p":"I","s":3,"x":0.9,"y":20.5},{"p":"I","s":3,"x":1.5,"y":11.2},{"p":"I","s":3,"x":2,"y":9.9},{"p":"I","s":3,"x":3,"y":7.9},{"p":"I","s":3,"x":4,"y":6.0},{"p":"I","s":3,"x":4.2,"y":5.3},{"p":"I","s":3,"x":4.45,"y":0},
{"p":"I","s":4,"x":0,"y":20.4},{"p":"I","s":4,"x":0.85,"y":20.4},{"p":"I","s":4,"x":1.5,"y":11.0},{"p":"I","s":4,"x":2,"y":9.7},{"p":"I","s":4,"x":3,"y":7.6},{"p":"I","s":4,"x":4,"y":5.7},{"p":"I","s":4,"x":4.2,"y":5.0},{"p":"I","s":4,"x":4.45,"y":0},
{"p":"I","s":5,"x":0,"y":20.3},{"p":"I","s":5,"x":0.9,"y":20.3},{"p":"I","s":5,"x":1.5,"y":10.8},{"p":"I","s":5,"x":2,"y":9.5},{"p":"I","s":5,"x":3,"y":7.2},{"p":"I","s":5,"x":4,"y":5.3},{"p":"I","s":5,"x":4.2,"y":4.6},{"p":"I","s":5,"x":4.45,"y":0},
{"p":"I","s":6,"x":0,"y":20.3},{"p":"I","s":6,"x":0.85,"y":20.3},{"p":"I","s":6,"x":1.5,"y":10.6},{"p":"I","s":6,"x":2,"y":9.4},{"p":"I","s":6,"x":3,"y":6.9},{"p":"I","s":6,"x":4,"y":5.0},{"p":"I","s":6,"x":4.2,"y":4.3},{"p":"I","s":6,"x":4.45,"y":0},

{"p":"J","s":1,"x":0,"y":14.4},{"p":"J","s":1,"x":0.65,"y":14.4},{"p":"J","s":1,"x":1.0,"y":7.8},{"p":"J","s":1,"x":2,"y":5.9},{"p":"J","s":1,"x":3,"y":4.3},{"p":"J","s":1,"x":4,"y":2.7},{"p":"J","s":1,"x":4.3,"y":2.3},{"p":"J","s":1,"x":4.4,"y":0},
{"p":"J","s":2,"x":0,"y":13.8},{"p":"J","s":2,"x":0.7,"y":13.8},{"p":"J","s":2,"x":1.0,"y":7.5},{"p":"J","s":2,"x":2,"y":5.6},{"p":"J","s":2,"x":3,"y":4.0},{"p":"J","s":2,"x":4,"y":2.5},{"p":"J","s":2,"x":4.3,"y":2.1},{"p":"J","s":2,"x":4.4,"y":0},
{"p":"J","s":3,"x":0,"y":13.3},{"p":"J","s":3,"x":0.65,"y":13.3},{"p":"J","s":3,"x":1.0,"y":7.3},{"p":"J","s":3,"x":2,"y":5.4},{"p":"J","s":3,"x":3,"y":3.8},{"p":"J","s":3,"x":4,"y":2.3},{"p":"J","s":3,"x":4.3,"y":1.9},{"p":"J","s":3,"x":4.4,"y":0},
{"p":"J","s":4,"x":0,"y":13.0},{"p":"J","s":4,"x":0.7,"y":13.0},{"p":"J","s":4,"x":1.0,"y":7.1},{"p":"J","s":4,"x":2,"y":5.2},{"p":"J","s":4,"x":3,"y":3.6},{"p":"J","s":4,"x":4,"y":2.2},{"p":"J","s":4,"x":4.3,"y":1.7},{"p":"J","s":4,"x":4.4,"y":0},
{"p":"J","s":5,"x":0,"y":12.8},{"p":"J","s":5,"x":0.65,"y":12.8},{"p":"J","s":5,"x":1.0,"y":6.9},{"p":"J","s":5,"x":2,"y":5.0},{"p":"J","s":5,"x":3,"y":3.4},{"p":"J","s":5,"x":4,"y":2.0},{"p":"J","s":5,"x":4.3,"y":1.5},{"p":"J","s":5,"x":4.4,"y":0},
{"p":"J","s":6,"x":0,"y":12.5},{"p":"J","s":6,"x":0.7,"y":12.5},{"p":"J","s":6,"x":1.0,"y":6.7},{"p":"J","s":6,"x":2,"y":4.8},{"p":"J","s":6,"x":3,"y":3.2},{"p":"J","s":6,"x":4,"y":1.9},{"p":"J","s":6,"x":4.3,"y":1.4},{"p":"J","s":6,"x":4.4,"y":0}
]},
"columns":4,
"spacing":{"row":21,"column":35},
"bounds":"flush",
"concat":[
 {"width":114,"height":95,"layer":[
  {"transform":[{"filter":"datum.p=='i'"}],"mark":{"type":"line","interpolate":"monotone","color":"#e8392c","strokeWidth":1.3,"opacity":0.9},"encoding":{"x":{"field":"x","type":"quantitative","title":null,"scale":{"domain":[0,5]},"axis":{"values":[0,1,2,3,4,5],"format":"~g","tickCount":12,"labelOverlap":false}},"y":{"field":"y","type":"quantitative","title":null,"scale":{"domain":[0,1],"nice":false},"axis":{"values":[0,0.2,0.4,0.6,0.8,1],"format":"~g","tickCount":12,"labelOverlap":false}},"detail":{"field":"s"}}},
  {"data":{"values":[{"t":"P1"}]},"mark":{"type":"text","align":"right","baseline":"top","fontSize":8,"color":"#444","dx":-2,"dy":3},"encoding":{"text":{"field":"t"},"x":{"datum":5},"y":{"datum":1}}},
  {"data":{"values":[{"t":"Gy"}]},"mark":{"type":"text","align":"right","baseline":"bottom","fontSize":8,"color":"#444","dx":-2,"dy":-2},"encoding":{"text":{"field":"t"},"x":{"datum":5},"y":{"datum":0}}},
  {"data":{"values":[{"t":"(i)"}]},"mark":{"type":"text","align":"left","baseline":"bottom","fontSize":12,"fontWeight":"bold","color":"#e0322a","dx":4,"dy":-3},"encoding":{"text":{"field":"t"},"x":{"datum":0},"y":{"datum":0}}}
 ]},
 {"width":114,"height":95,"layer":[
  {"transform":[{"filter":"datum.p=='A'"}],"mark":{"type":"line","interpolate":"monotone","color":"#3535d8","strokeWidth":0.8,"opacity":0.5},"encoding":{"x":{"field":"x","type":"quantitative","title":null,"scale":{"domain":[0,5]},"axis":{"values":[0,1,2,3,4,5],"format":"~g","tickCount":12,"labelOverlap":false}},"y":{"field":"y","type":"quantitative","title":null,"scale":{"domain":[0,20],"nice":false},"axis":{"values":[0,5,10,15,20],"format":"~g","tickCount":12,"labelOverlap":false}},"detail":{"field":"s"}}},
  {"data":{"values":[{"t":"P1"}]},"mark":{"type":"text","align":"right","baseline":"top","fontSize":8,"color":"#444","dx":-2,"dy":3},"encoding":{"text":{"field":"t"},"x":{"datum":5},"y":{"datum":20}}},
  {"data":{"values":[{"t":"Gy"}]},"mark":{"type":"text","align":"right","baseline":"bottom","fontSize":8,"color":"#444","dx":-2,"dy":-2},"encoding":{"text":{"field":"t"},"x":{"datum":5},"y":{"datum":0}}},
  {"data":{"values":[{"t":"(A)"}]},"mark":{"type":"text","align":"left","baseline":"bottom","fontSize":13,"fontWeight":"bold","color":"#e0322a","dx":3,"dy":-3},"encoding":{"text":{"field":"t"},"x":{"datum":0},"y":{"datum":0}}}
 ]},
 {"width":114,"height":95,"layer":[
  {"transform":[{"filter":"datum.p=='vi'"}],"mark":{"type":"line","interpolate":"monotone","color":"#e8392c","strokeWidth":1.3,"opacity":0.9},"encoding":{"x":{"field":"x","type":"quantitative","title":null,"scale":{"domain":[0,5]},"axis":{"values":[0,1,2,3,4,5],"format":"~g","tickCount":12,"labelOverlap":false}},"y":{"field":"y","type":"quantitative","title":null,"scale":{"domain":[0,1],"nice":false},"axis":{"values":[0,0.2,0.4,0.6,0.8,1],"format":"~g","tickCount":12,"labelOverlap":false}},"detail":{"field":"s"}}},
  {"data":{"values":[{"t":"P6"}]},"mark":{"type":"text","align":"right","baseline":"top","fontSize":8,"color":"#444","dx":-2,"dy":3},"encoding":{"text":{"field":"t"},"x":{"datum":5},"y":{"datum":1}}},
  {"data":{"values":[{"t":"Gy"}]},"mark":{"type":"text","align":"right","baseline":"bottom","fontSize":8,"color":"#444","dx":-2,"dy":-2},"encoding":{"text":{"field":"t"},"x":{"datum":5},"y":{"datum":0}}},
  {"data":{"values":[{"t":"(vi)"}]},"mark":{"type":"text","align":"left","baseline":"bottom","fontSize":12,"fontWeight":"bold","color":"#e0322a","dx":4,"dy":-3},"encoding":{"text":{"field":"t"},"x":{"datum":0},"y":{"datum":0}}}
 ]},
 {"width":114,"height":95,"layer":[
  {"transform":[{"filter":"datum.p=='F'"}],"mark":{"type":"line","interpolate":"monotone","color":"#3535d8","strokeWidth":0.8,"opacity":0.5},"encoding":{"x":{"field":"x","type":"quantitative","title":null,"scale":{"domain":[0,5]},"axis":{"values":[0,1,2,3,4,5],"format":"~g","tickCount":12,"labelOverlap":false}},"y":{"field":"y","type":"quantitative","title":null,"scale":{"domain":[0,25],"nice":false},"axis":{"values":[0,5,10,15,20,25],"format":"~g","tickCount":12,"labelOverlap":false}},"detail":{"field":"s"}}},
  {"data":{"values":[{"t":"P6"}]},"mark":{"type":"text","align":"right","baseline":"top","fontSize":8,"color":"#444","dx":-2,"dy":3},"encoding":{"text":{"field":"t"},"x":{"datum":5},"y":{"datum":25}}},
  {"data":{"values":[{"t":"Gy"}]},"mark":{"type":"text","align":"right","baseline":"bottom","fontSize":8,"color":"#444","dx":-2,"dy":-2},"encoding":{"text":{"field":"t"},"x":{"datum":5},"y":{"datum":0}}},
  {"data":{"values":[{"t":"(F)"}]},"mark":{"type":"text","align":"left","baseline":"bottom","fontSize":13,"fontWeight":"bold","color":"#e0322a","dx":3,"dy":-3},"encoding":{"text":{"field":"t"},"x":{"datum":0},"y":{"datum":0}}}
 ]},
 {"width":114,"height":95,"layer":[
  {"transform":[{"filter":"datum.p=='ii'"}],"mark":{"type":"line","interpolate":"monotone","color":"#e8392c","strokeWidth":1.3,"opacity":0.9},"encoding":{"x":{"field":"x","type":"quantitative","title":null,"scale":{"domain":[0,5]},"axis":{"values":[0,1,2,3,4,5],"format":"~g","tickCount":12,"labelOverlap":false}},"y":{"field":"y","type":"quantitative","title":null,"scale":{"domain":[0,1],"nice":false},"axis":{"values":[0,0.2,0.4,0.6,0.8,1],"format":"~g","tickCount":12,"labelOverlap":false}},"detail":{"field":"s"}}},
  {"data":{"values":[{"t":"P2"}]},"mark":{"type":"text","align":"right","baseline":"top","fontSize":8,"color":"#444","dx":-2,"dy":3},"encoding":{"text":{"field":"t"},"x":{"datum":5},"y":{"datum":1}}},
  {"data":{"values":[{"t":"Gy"}]},"mark":{"type":"text","align":"right","baseline":"bottom","fontSize":8,"color":"#444","dx":-2,"dy":-2},"encoding":{"text":{"field":"t"},"x":{"datum":5},"y":{"datum":0}}},
  {"data":{"values":[{"t":"(ii)"}]},"mark":{"type":"text","align":"left","baseline":"bottom","fontSize":12,"fontWeight":"bold","color":"#e0322a","dx":4,"dy":-3},"encoding":{"text":{"field":"t"},"x":{"datum":0},"y":{"datum":0}}}
 ]},
 {"width":114,"height":95,"layer":[
  {"transform":[{"filter":"datum.p=='B'"}],"mark":{"type":"line","interpolate":"monotone","color":"#3535d8","strokeWidth":0.8,"opacity":0.5},"encoding":{"x":{"field":"x","type":"quantitative","title":null,"scale":{"domain":[0,5]},"axis":{"values":[0,1,2,3,4,5],"format":"~g","tickCount":12,"labelOverlap":false}},"y":{"field":"y","type":"quantitative","title":null,"scale":{"domain":[0,15],"nice":false},"axis":{"values":[0,5,10,15],"format":"~g","tickCount":12,"labelOverlap":false}},"detail":{"field":"s"}}},
  {"data":{"values":[{"t":"P2"}]},"mark":{"type":"text","align":"right","baseline":"top","fontSize":8,"color":"#444","dx":-2,"dy":3},"encoding":{"text":{"field":"t"},"x":{"datum":5},"y":{"datum":15}}},
  {"data":{"values":[{"t":"Gy"}]},"mark":{"type":"text","align":"right","baseline":"bottom","fontSize":8,"color":"#444","dx":-2,"dy":-2},"encoding":{"text":{"field":"t"},"x":{"datum":5},"y":{"datum":0}}},
  {"data":{"values":[{"t":"(B)"}]},"mark":{"type":"text","align":"left","baseline":"bottom","fontSize":13,"fontWeight":"bold","color":"#e0322a","dx":3,"dy":-3},"encoding":{"text":{"field":"t"},"x":{"datum":0},"y":{"datum":0}}}
 ]},
 {"width":114,"height":95,"layer":[
  {"transform":[{"filter":"datum.p=='vii'"}],"mark":{"type":"line","interpolate":"monotone","color":"#e8392c","strokeWidth":1.3,"opacity":0.9},"encoding":{"x":{"field":"x","type":"quantitative","title":null,"scale":{"domain":[0,5]},"axis":{"values":[0,1,2,3,4,5],"format":"~g","tickCount":12,"labelOverlap":false}},"y":{"field":"y","type":"quantitative","title":null,"scale":{"domain":[0,1],"nice":false},"axis":{"values":[0,0.2,0.4,0.6,0.8,1],"format":"~g","tickCount":12,"labelOverlap":false}},"detail":{"field":"s"}}},
  {"data":{"values":[{"t":"P7"}]},"mark":{"type":"text","align":"right","baseline":"top","fontSize":8,"color":"#444","dx":-2,"dy":3},"encoding":{"text":{"field":"t"},"x":{"datum":5},"y":{"datum":1}}},
  {"data":{"values":[{"t":"Gy"}]},"mark":{"type":"text","align":"right","baseline":"bottom","fontSize":8,"color":"#444","dx":-2,"dy":-2},"encoding":{"text":{"field":"t"},"x":{"datum":5},"y":{"datum":0}}},
  {"data":{"values":[{"t":"(vii)"}]},"mark":{"type":"text","align":"left","baseline":"bottom","fontSize":12,"fontWeight":"bold","color":"#e0322a","dx":4,"dy":-3},"encoding":{"text":{"field":"t"},"x":{"datum":0},"y":{"datum":0}}}
 ]},
 {"width":114,"height":95,"layer":[
  {"transform":[{"filter":"datum.p=='G'"}],"mark":{"type":"line","interpolate":"monotone","color":"#3535d8","strokeWidth":0.8,"opacity":0.5},"encoding":{"x":{"field":"x","type":"quantitative","title":null,"scale":{"domain":[0,5]},"axis":{"values":[0,1,2,3,4,5],"format":"~g","tickCount":12,"labelOverlap":false}},"y":{"field":"y","type":"quantitative","title":null,"scale":{"domain":[0,30],"nice":false},"axis":{"values":[0,5,10,15,20,25,30],"format":"~g","tickCount":12,"labelOverlap":false}},"detail":{"field":"s"}}},
  {"data":{"values":[{"t":"P7"}]},"mark":{"type":"text","align":"right","baseline":"top","fontSize":8,"color":"#444","dx":-2,"dy":3},"encoding":{"text":{"field":"t"},"x":{"datum":5},"y":{"datum":30}}},
  {"data":{"values":[{"t":"Gy"}]},"mark":{"type":"text","align":"right","baseline":"bottom","fontSize":8,"color":"#444","dx":-2,"dy":-2},"encoding":{"text":{"field":"t"},"x":{"datum":5},"y":{"datum":0}}},
  {"data":{"values":[{"t":"(G)"}]},"mark":{"type":"text","align":"left","baseline":"bottom","fontSize":13,"fontWeight":"bold","color":"#e0322a","dx":3,"dy":-3},"encoding":{"text":{"field":"t"},"x":{"datum":0},"y":{"datum":0}}}
 ]},
 {"width":114,"height":95,"layer":[
  {"transform":[{"filter":"datum.p=='iii'"}],"mark":{"type":"line","interpolate":"monotone","color":"#e8392c","strokeWidth":1.3,"opacity":0.9},"encoding":{"x":{"field":"x","type":"quantitative","title":null,"scale":{"domain":[0,5]},"axis":{"values":[0,1,2,3,4,5],"format":"~g","tickCount":12,"labelOverlap":false}},"y":{"field":"y","type":"quantitative","title":null,"scale":{"domain":[0,1],"nice":false},"axis":{"values":[0,0.2,0.4,0.6,0.8,1],"format":"~g","tickCount":12,"labelOverlap":false}},"detail":{"field":"s"}}},
  {"data":{"values":[{"t":"P3"}]},"mark":{"type":"text","align":"right","baseline":"top","fontSize":8,"color":"#444","dx":-2,"dy":3},"encoding":{"text":{"field":"t"},"x":{"datum":5},"y":{"datum":1}}},
  {"data":{"values":[{"t":"Gy"}]},"mark":{"type":"text","align":"right","baseline":"bottom","fontSize":8,"color":"#444","dx":-2,"dy":-2},"encoding":{"text":{"field":"t"},"x":{"datum":5},"y":{"datum":0}}},
  {"data":{"values":[{"t":"v"}]},"mark":{"type":"text","align":"center","baseline":"middle","fontSize":6,"color":"#555"},"encoding":{"text":{"field":"t"},"x":{"datum":0.65},"y":{"datum":0.48}}},
  {"data":{"values":[{"t":"(iii)"}]},"mark":{"type":"text","align":"left","baseline":"bottom","fontSize":12,"fontWeight":"bold","color":"#e0322a","dx":4,"dy":-3},"encoding":{"text":{"field":"t"},"x":{"datum":0},"y":{"datum":0}}}
 ]},
 {"width":114,"height":95,"layer":[
  {"transform":[{"filter":"datum.p=='C'"}],"mark":{"type":"line","interpolate":"monotone","color":"#3535d8","strokeWidth":0.8,"opacity":0.5},"encoding":{"x":{"field":"x","type":"quantitative","title":null,"scale":{"domain":[0,5]},"axis":{"values":[0,1,2,3,4,5],"format":"~g","tickCount":12,"labelOverlap":false}},"y":{"field":"y","type":"quantitative","title":null,"scale":{"domain":[0,25],"nice":false},"axis":{"values":[0,5,10,15,20,25],"format":"~g","tickCount":12,"labelOverlap":false}},"detail":{"field":"s"}}},
  {"data":{"values":[{"t":"P3"}]},"mark":{"type":"text","align":"right","baseline":"top","fontSize":8,"color":"#444","dx":-2,"dy":3},"encoding":{"text":{"field":"t"},"x":{"datum":5},"y":{"datum":25}}},
  {"data":{"values":[{"t":"Gy"}]},"mark":{"type":"text","align":"right","baseline":"bottom","fontSize":8,"color":"#444","dx":-2,"dy":-2},"encoding":{"text":{"field":"t"},"x":{"datum":5},"y":{"datum":0}}},
  {"data":{"values":[{"t":"(C)"}]},"mark":{"type":"text","align":"left","baseline":"bottom","fontSize":13,"fontWeight":"bold","color":"#e0322a","dx":3,"dy":-3},"encoding":{"text":{"field":"t"},"x":{"datum":0},"y":{"datum":0}}}
 ]},
 {"width":114,"height":95,"layer":[
  {"transform":[{"filter":"datum.p=='viii'"}],"mark":{"type":"line","interpolate":"monotone","color":"#e8392c","strokeWidth":1.3,"opacity":0.9},"encoding":{"x":{"field":"x","type":"quantitative","title":null,"scale":{"domain":[0,5]},"axis":{"values":[0,1,2,3,4,5],"format":"~g","tickCount":12,"labelOverlap":false}},"y":{"field":"y","type":"quantitative","title":null,"scale":{"domain":[0,1],"nice":false},"axis":{"values":[0,0.2,0.4,0.6,0.8,1],"format":"~g","tickCount":12,"labelOverlap":false}},"detail":{"field":"s"}}},
  {"data":{"values":[{"t":"P8"}]},"mark":{"type":"text","align":"right","baseline":"top","fontSize":8,"color":"#444","dx":-2,"dy":3},"encoding":{"text":{"field":"t"},"x":{"datum":5},"y":{"datum":1}}},
  {"data":{"values":[{"t":"Gy"}]},"mark":{"type":"text","align":"right","baseline":"bottom","fontSize":8,"color":"#444","dx":-2,"dy":-2},"encoding":{"text":{"field":"t"},"x":{"datum":5},"y":{"datum":0}}},
  {"data":{"values":[{"t":"(viii)"}]},"mark":{"type":"text","align":"left","baseline":"bottom","fontSize":12,"fontWeight":"bold","color":"#e0322a","dx":4,"dy":-3},"encoding":{"text":{"field":"t"},"x":{"datum":0},"y":{"datum":0}}}
 ]},
 {"width":114,"height":95,"layer":[
  {"transform":[{"filter":"datum.p=='H'"}],"mark":{"type":"line","interpolate":"monotone","color":"#3535d8","strokeWidth":0.8,"opacity":0.5},"encoding":{"x":{"field":"x","type":"quantitative","title":null,"scale":{"domain":[0,5]},"axis":{"values":[0,1,2,3,4,5],"format":"~g","tickCount":12,"labelOverlap":false}},"y":{"field":"y","type":"quantitative","title":null,"scale":{"domain":[0,25],"nice":false},"axis":{"values":[0,5,10,15,20,25],"format":"~g","tickCount":12,"labelOverlap":false}},"detail":{"field":"s"}}},
  {"data":{"values":[{"t":"P8"}]},"mark":{"type":"text","align":"right","baseline":"top","fontSize":8,"color":"#444","dx":-2,"dy":3},"encoding":{"text":{"field":"t"},"x":{"datum":5},"y":{"datum":25}}},
  {"data":{"values":[{"t":"Gy"}]},"mark":{"type":"text","align":"right","baseline":"bottom","fontSize":8,"color":"#444","dx":-2,"dy":-2},"encoding":{"text":{"field":"t"},"x":{"datum":5},"y":{"datum":0}}},
  {"data":{"values":[{"t":"(H)"}]},"mark":{"type":"text","align":"left","baseline":"bottom","fontSize":13,"fontWeight":"bold","color":"#e0322a","dx":3,"dy":-3},"encoding":{"text":{"field":"t"},"x":{"datum":0},"y":{"datum":0}}}
 ]},
 {"width":114,"height":95,"layer":[
  {"transform":[{"filter":"datum.p=='iv'"}],"mark":{"type":"line","interpolate":"monotone","color":"#e8392c","strokeWidth":1.3,"opacity":0.9},"encoding":{"x":{"field":"x","type":"quantitative","title":null,"scale":{"domain":[0,5]},"axis":{"values":[0,1,2,3,4,5],"format":"~g","tickCount":12,"labelOverlap":false}},"y":{"field":"y","type":"quantitative","title":null,"scale":{"domain":[0,1],"nice":false},"axis":{"values":[0,0.2,0.4,0.6,0.8,1],"format":"~g","tickCount":12,"labelOverlap":false}},"detail":{"field":"s"}}},
  {"data":{"values":[{"t":"P4"}]},"mark":{"type":"text","align":"right","baseline":"top","fontSize":8,"color":"#444","dx":-2,"dy":3},"encoding":{"text":{"field":"t"},"x":{"datum":5},"y":{"datum":1}}},
  {"data":{"values":[{"t":"Gy"}]},"mark":{"type":"text","align":"right","baseline":"bottom","fontSize":8,"color":"#444","dx":-2,"dy":-2},"encoding":{"text":{"field":"t"},"x":{"datum":5},"y":{"datum":0}}},
  {"data":{"values":[{"t":"(iv)"}]},"mark":{"type":"text","align":"left","baseline":"bottom","fontSize":12,"fontWeight":"bold","color":"#e0322a","dx":4,"dy":-3},"encoding":{"text":{"field":"t"},"x":{"datum":0},"y":{"datum":0}}}
 ]},
 {"width":114,"height":95,"layer":[
  {"transform":[{"filter":"datum.p=='D'"}],"mark":{"type":"line","interpolate":"monotone","color":"#3535d8","strokeWidth":0.8,"opacity":0.5},"encoding":{"x":{"field":"x","type":"quantitative","title":null,"scale":{"domain":[0,5]},"axis":{"values":[0,1,2,3,4,5],"format":"~g","tickCount":12,"labelOverlap":false}},"y":{"field":"y","type":"quantitative","title":null,"scale":{"domain":[0,12],"nice":false},"axis":{"values":[0,2,4,6,8,10,12],"format":"~g","tickCount":12,"labelOverlap":false}},"detail":{"field":"s"}}},
  {"data":{"values":[{"t":"P4"}]},"mark":{"type":"text","align":"right","baseline":"top","fontSize":8,"color":"#444","dx":-2,"dy":3},"encoding":{"text":{"field":"t"},"x":{"datum":5},"y":{"datum":12}}},
  {"data":{"values":[{"t":"Gy"}]},"mark":{"type":"text","align":"right","baseline":"bottom","fontSize":8,"color":"#444","dx":-2,"dy":-2},"encoding":{"text":{"field":"t"},"x":{"datum":5},"y":{"datum":0}}},
  {"data":{"values":[{"t":"(D)"}]},"mark":{"type":"text","align":"left","baseline":"bottom","fontSize":11,"fontWeight":"bold","color":"#e0322a","dx":3,"dy":-3},"encoding":{"text":{"field":"t"},"x":{"datum":0},"y":{"datum":0}}}
 ]},
 {"width":114,"height":95,"layer":[
  {"transform":[{"filter":"datum.p=='ix'"}],"mark":{"type":"line","interpolate":"monotone","color":"#e8392c","strokeWidth":1.3,"opacity":0.9},"encoding":{"x":{"field":"x","type":"quantitative","title":null,"scale":{"domain":[0,5]},"axis":{"values":[0,1,2,3,4,5],"format":"~g","tickCount":12,"labelOverlap":false}},"y":{"field":"y","type":"quantitative","title":null,"scale":{"domain":[0,1],"nice":false},"axis":{"values":[0,0.2,0.4,0.6,0.8,1],"format":"~g","tickCount":12,"labelOverlap":false}},"detail":{"field":"s"}}},
  {"data":{"values":[{"t":"P9"}]},"mark":{"type":"text","align":"right","baseline":"top","fontSize":8,"color":"#444","dx":-2,"dy":3},"encoding":{"text":{"field":"t"},"x":{"datum":5},"y":{"datum":1}}},
  {"data":{"values":[{"t":"Gy"}]},"mark":{"type":"text","align":"right","baseline":"bottom","fontSize":8,"color":"#444","dx":-2,"dy":-2},"encoding":{"text":{"field":"t"},"x":{"datum":5},"y":{"datum":0}}},
  {"data":{"values":[{"t":"(ix)"}]},"mark":{"type":"text","align":"left","baseline":"bottom","fontSize":12,"fontWeight":"bold","color":"#e0322a","dx":4,"dy":-3},"encoding":{"text":{"field":"t"},"x":{"datum":0},"y":{"datum":0}}}
 ]},
 {"width":114,"height":95,"layer":[
  {"transform":[{"filter":"datum.p=='I'"}],"mark":{"type":"line","interpolate":"monotone","color":"#3535d8","strokeWidth":0.8,"opacity":0.5},"encoding":{"x":{"field":"x","type":"quantitative","title":null,"scale":{"domain":[0,5]},"axis":{"values":[0,1,2,3,4,5],"format":"~g","tickCount":12,"labelOverlap":false}},"y":{"field":"y","type":"quantitative","title":null,"scale":{"domain":[0,25],"nice":false},"axis":{"values":[0,5,10,15,20,25],"format":"~g","tickCount":12,"labelOverlap":false}},"detail":{"field":"s"}}},
  {"data":{"values":[{"t":"P9"}]},"mark":{"type":"text","align":"right","baseline":"top","fontSize":8,"color":"#444","dx":-2,"dy":3},"encoding":{"text":{"field":"t"},"x":{"datum":5},"y":{"datum":25}}},
  {"data":{"values":[{"t":"Gy"}]},"mark":{"type":"text","align":"right","baseline":"bottom","fontSize":8,"color":"#444","dx":-2,"dy":-2},"encoding":{"text":{"field":"t"},"x":{"datum":5},"y":{"datum":0}}},
  {"data":{"values":[{"t":"(I)"}]},"mark":{"type":"text","align":"left","baseline":"bottom","fontSize":13,"fontWeight":"bold","color":"#e0322a","dx":4,"dy":-3},"encoding":{"text":{"field":"t"},"x":{"datum":0},"y":{"datum":0}}}
 ]},
 {"width":114,"height":95,"layer":[
  {"transform":[{"filter":"datum.p=='v'"}],"mark":{"type":"line","interpolate":"monotone","color":"#e8392c","strokeWidth":1.3,"opacity":0.9},"encoding":{"x":{"field":"x","type":"quantitative","title":null,"scale":{"domain":[0,5]},"axis":{"values":[0,1,2,3,4,5],"format":"~g","tickCount":12,"labelOverlap":false}},"y":{"field":"y","type":"quantitative","title":null,"scale":{"domain":[0,1],"nice":false},"axis":{"values":[0,0.2,0.4,0.6,0.8,1],"format":"~g","tickCount":12,"labelOverlap":false}},"detail":{"field":"s"}}},
  {"data":{"values":[{"t":"P5"}]},"mark":{"type":"text","align":"right","baseline":"top","fontSize":8,"color":"#444","dx":-2,"dy":3},"encoding":{"text":{"field":"t"},"x":{"datum":5},"y":{"datum":1}}},
  {"data":{"values":[{"t":"Gy"}]},"mark":{"type":"text","align":"right","baseline":"bottom","fontSize":8,"color":"#444","dx":-2,"dy":-2},"encoding":{"text":{"field":"t"},"x":{"datum":5},"y":{"datum":0}}},
  {"data":{"values":[{"t":"(v)"}]},"mark":{"type":"text","align":"left","baseline":"bottom","fontSize":12,"fontWeight":"bold","color":"#e0322a","dx":4,"dy":-3},"encoding":{"text":{"field":"t"},"x":{"datum":0},"y":{"datum":0}}}
 ]},
 {"width":114,"height":95,"layer":[
  {"transform":[{"filter":"datum.p=='E'"}],"mark":{"type":"line","interpolate":"monotone","color":"#3535d8","strokeWidth":0.8,"opacity":0.5},"encoding":{"x":{"field":"x","type":"quantitative","title":null,"scale":{"domain":[0,5]},"axis":{"values":[0,1,2,3,4,5],"format":"~g","tickCount":12,"labelOverlap":false}},"y":{"field":"y","type":"quantitative","title":null,"scale":{"domain":[0,15],"nice":false},"axis":{"values":[0,5,10,15],"format":"~g","tickCount":12,"labelOverlap":false}},"detail":{"field":"s"}}},
  {"data":{"values":[{"t":"P5"}]},"mark":{"type":"text","align":"right","baseline":"top","fontSize":8,"color":"#444","dx":-2,"dy":3},"encoding":{"text":{"field":"t"},"x":{"datum":5},"y":{"datum":15}}},
  {"data":{"values":[{"t":"Gy"}]},"mark":{"type":"text","align":"right","baseline":"bottom","fontSize":8,"color":"#444","dx":-2,"dy":-2},"encoding":{"text":{"field":"t"},"x":{"datum":5},"y":{"datum":0}}},
  {"data":{"values":[{"t":"(E)"}]},"mark":{"type":"text","align":"left","baseline":"bottom","fontSize":11,"fontWeight":"bold","color":"#e0322a","dx":5,"dy":-3},"encoding":{"text":{"field":"t"},"x":{"datum":0},"y":{"datum":0}}}
 ]},
 {"width":114,"height":95,"layer":[
  {"transform":[{"filter":"datum.p=='x'"}],"mark":{"type":"line","interpolate":"monotone","color":"#e8392c","strokeWidth":1.3,"opacity":0.9},"encoding":{"x":{"field":"x","type":"quantitative","title":null,"scale":{"domain":[0,5]},"axis":{"values":[0,1,2,3,4,5],"format":"~g","tickCount":12,"labelOverlap":false}},"y":{"field":"y","type":"quantitative","title":null,"scale":{"domain":[0,1],"nice":false},"axis":{"values":[0,0.2,0.4,0.6,0.8,1],"format":"~g","tickCount":12,"labelOverlap":false}},"detail":{"field":"s"}}},
  {"data":{"values":[{"t":"P10"}]},"mark":{"type":"text","align":"right","baseline":"top","fontSize":8,"color":"#444","dx":-2,"dy":3},"encoding":{"text":{"field":"t"},"x":{"datum":5},"y":{"datum":1}}},
  {"data":{"values":[{"t":"Gy"}]},"mark":{"type":"text","align":"right","baseline":"bottom","fontSize":8,"color":"#444","dx":-2,"dy":-2},"encoding":{"text":{"field":"t"},"x":{"datum":5},"y":{"datum":0}}},
  {"data":{"values":[{"t":"(x)"}]},"mark":{"type":"text","align":"left","baseline":"bottom","fontSize":12,"fontWeight":"bold","color":"#e0322a","dx":4,"dy":-3},"encoding":{"text":{"field":"t"},"x":{"datum":0},"y":{"datum":0}}}
 ]},
 {"width":114,"height":95,"layer":[
  {"transform":[{"filter":"datum.p=='J'"}],"mark":{"type":"line","interpolate":"monotone","color":"#3535d8","strokeWidth":0.8,"opacity":0.5},"encoding":{"x":{"field":"x","type":"quantitative","title":null,"scale":{"domain":[0,5]},"axis":{"values":[0,1,2,3,4,5],"format":"~g","tickCount":12,"labelOverlap":false}},"y":{"field":"y","type":"quantitative","title":null,"scale":{"domain":[0,15],"nice":false},"axis":{"values":[0,5,10,15],"format":"~g","tickCount":12,"labelOverlap":false}},"detail":{"field":"s"}}},
  {"data":{"values":[{"t":"P10"}]},"mark":{"type":"text","align":"right","baseline":"top","fontSize":8,"color":"#444","dx":-2,"dy":3},"encoding":{"text":{"field":"t"},"x":{"datum":5},"y":{"datum":15}}},
  {"data":{"values":[{"t":"Gy"}]},"mark":{"type":"text","align":"right","baseline":"bottom","fontSize":8,"color":"#444","dx":-2,"dy":-2},"encoding":{"text":{"field":"t"},"x":{"datum":5},"y":{"datum":0}}},
  {"data":{"values":[{"t":"(J)"}]},"mark":{"type":"text","align":"left","baseline":"bottom","fontSize":13,"fontWeight":"bold","color":"#e0322a","dx":5,"dy":-3},"encoding":{"text":{"field":"t"},"x":{"datum":0},"y":{"datum":0}}}
 ]}
],
"config":{
 "view":{"stroke":"#9c9c9c","strokeWidth":0.8},
 "font":"Liberation Sans",
 "axis":{"grid":true,"gridColor":"#e2e2e2","gridWidth":0.7,"domain":false,"ticks":false,"labelFontSize":7,"labelColor":"#444","labelFont":"Liberation Sans","labelPadding":2,"labelFlush":false,"labelOverlap":false,"tickCount":12},
 "text":{"font":"Liberation Sans"}
}
}
